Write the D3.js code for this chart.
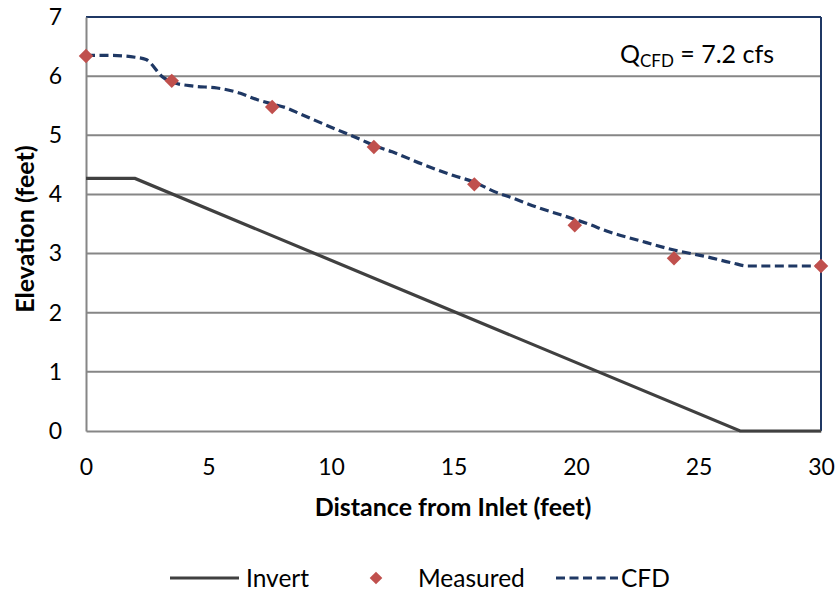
<!DOCTYPE html>
<html><head><meta charset="utf-8">
<script src="https://cdn.jsdelivr.net/npm/d3@7"></script>
<style>body{margin:0;background:#fff}svg{display:block}text{font-family:Lato,"Open Sans",sans-serif;fill:#000}</style>
</head><body>
<svg id="c" width="840" height="593"></svg>
<script>
const xTicks = [0,5,10,15,20,25,30];
const yTicks = [0,1,2,3,4,5,6,7];
const invertX = [0, 2.0, 26.7, 30];
const invertY = [4.27, 4.27, 0, 0];
const measuredX = [0, 3.5, 7.6, 11.75, 15.85, 19.95, 24.0, 30];
const measuredY = [6.34, 5.92, 5.48, 4.80, 4.17, 3.48, 2.92, 2.79];
const cfdX = [0, 1, 2, 2.45, 3.15, 3.5, 4.4, 5.35, 6.3, 7.0, 7.6, 8.2, 8.75, 10.1, 11.2, 11.8, 12.5, 13.8, 15, 15.9, 16.6, 17.4, 18.5, 19.5, 20.5, 21.4, 22.5, 24, 25.3, 26.4, 27, 30];
const cfdY = [6.35, 6.35, 6.32, 6.28, 5.98, 5.9, 5.83, 5.80, 5.71, 5.60, 5.53, 5.46, 5.36, 5.12, 4.93, 4.82, 4.72, 4.5, 4.32, 4.2, 4.06, 3.94, 3.77, 3.64, 3.5, 3.36, 3.23, 3.06, 2.95, 2.84, 2.79, 2.79];
const xTitle = "Distance from Inlet (feet)";
const yTitle = "Elevation (feet)";
const legendLabels = ["Invert", "Measured", "CFD"];

const svg = d3.select("#c");
const L = 86, R = 821, T = 17, B = 431;
const x = d3.scaleLinear().domain([0,30]).range([L,R]);
const y = d3.scaleLinear().domain([0,7]).range([B,T]);
const navy = "#1f3864", red = "#c0504d", dark = "#404040", grid = "#868686";

// gridlines
svg.append("g").selectAll("line").data(yTicks.filter(d=>d>0&&d<7)).join("line")
  .attr("x1", L).attr("x2", R).attr("y1", d=>y(d)).attr("y2", d=>y(d))
  .attr("stroke", grid).attr("stroke-width", 2);
// frame top/right
svg.append("line").attr("x1",L).attr("x2",R).attr("y1",T).attr("y2",T).attr("stroke",navy).attr("stroke-width",2);
svg.append("line").attr("x1",R).attr("x2",R).attr("y1",T).attr("y2",B).attr("stroke",navy).attr("stroke-width",2);

// axes
const xa = svg.append("g").attr("transform",`translate(0,${B})`)
  .call(d3.axisBottom(x).tickValues(xTicks).tickFormat(d3.format("d")).tickSize(0));
const ya = svg.append("g").attr("transform",`translate(${L},0)`)
  .call(d3.axisLeft(y).tickValues(yTicks).tickFormat(d3.format("d")).tickSize(0).tickPadding(24));
[xa, ya].forEach(g=>{
  g.select(".domain").attr("stroke", grid).attr("stroke-width", 2);
  g.selectAll("text").attr("font-size", 23).attr("font-family","Lato");
});
xa.selectAll("text").attr("dy", "0.35em").attr("y", 36);

// titles
svg.append("text").attr("x", 453).attr("y", 516).attr("text-anchor","middle")
  .attr("font-weight","bold").attr("font-size", 25).text(xTitle);
svg.append("text").attr("transform","translate(34,229) rotate(-90)").attr("text-anchor","middle")
  .attr("font-weight","bold").attr("font-size", 25).text(yTitle);

// invert line
const invData = invertX.map((d,i)=>[d, invertY[i]]);
svg.append("path").datum(invData)
  .attr("d", d3.line().x(d=>x(d[0])).y(d=>y(d[1])))
  .attr("fill","none").attr("stroke",dark).attr("stroke-width",3.2);

// CFD line
const cfdData = cfdX.map((d,i)=>[d, cfdY[i]]);
svg.append("path").datum(cfdData)
  .attr("d", d3.line().x(d=>x(d[0])).y(d=>y(d[1])).curve(d3.curveMonotoneX))
  .attr("fill","none").attr("stroke",navy).attr("stroke-width",3.2)
  .attr("stroke-dasharray","9,4.5");

// measured
const diamond = d3.symbol().type(d3.symbolSquare).size(105);
svg.append("g").selectAll("path").data(measuredX.map((d,i)=>[d, measuredY[i]])).join("path")
  .attr("d", diamond)
  .attr("transform", d=>`translate(${x(d[0])},${y(d[1])}) rotate(45)`)
  .attr("fill", red);

// annotation
const ann = svg.append("text").attr("x", 620).attr("y", 63).attr("font-size", 25);
ann.append("tspan").text("Q");
ann.append("tspan").attr("font-size", 17).attr("dy", 4).text("CFD");
ann.append("tspan").attr("dy", -4).text(" = 7.2 cfs");

// legend
const ly = 578;
svg.append("line").attr("x1",170).attr("x2",239).attr("y1",ly).attr("y2",ly).attr("stroke",dark).attr("stroke-width",3.2);
svg.append("text").attr("x",246).attr("y",ly).attr("dy","0.35em").attr("font-size",24.5).text(legendLabels[0]);
svg.append("path").attr("d", d3.symbol().type(d3.symbolSquare).size(80)).attr("transform",`translate(376,${ly}) rotate(45)`).attr("fill",red);
svg.append("text").attr("x",418).attr("y",ly).attr("dy","0.35em").attr("font-size",24.5).text(legendLabels[1]);
svg.append("line").attr("x1",556).attr("x2",618).attr("y1",ly).attr("y2",ly).attr("stroke",navy).attr("stroke-width",3.2).attr("stroke-dasharray","9,4.5");
svg.append("text").attr("x",621).attr("y",ly).attr("dy","0.35em").attr("font-size",24.5).text(legendLabels[2]);
</script>
</body></html>
